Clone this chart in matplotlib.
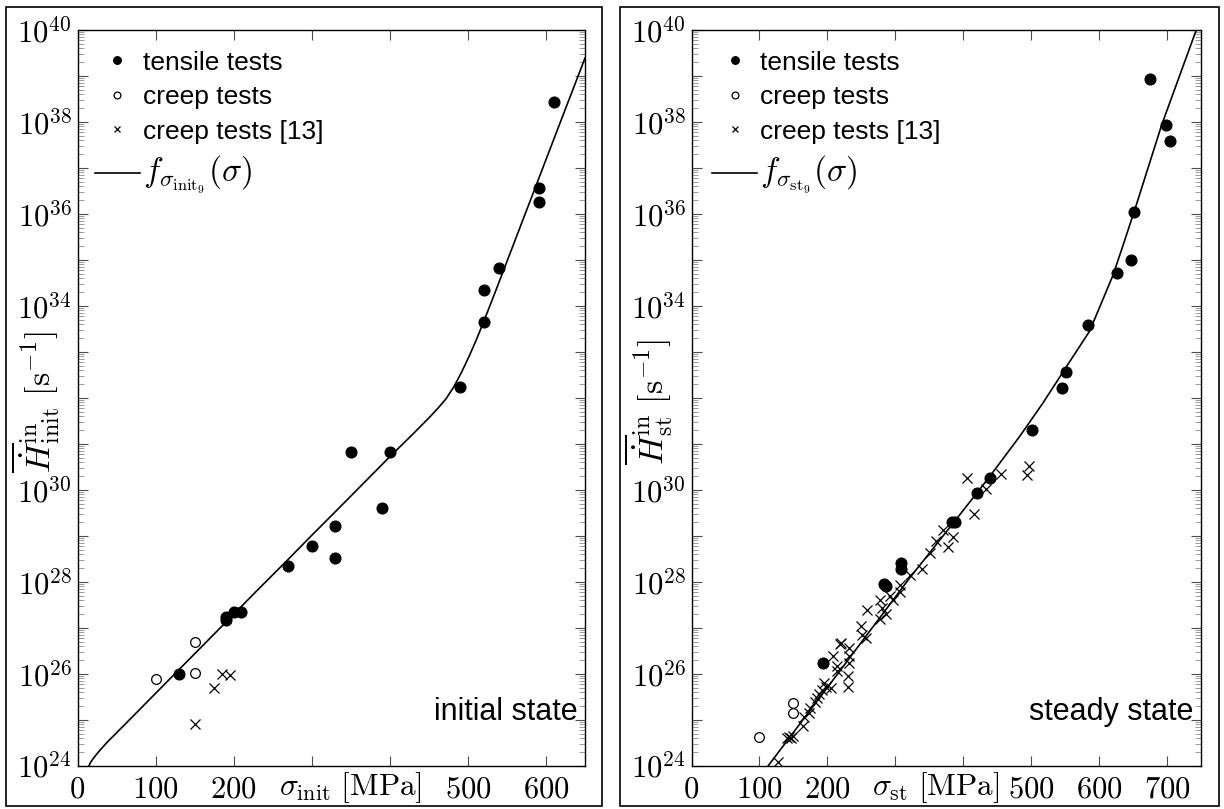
import matplotlib.pyplot as plt
import numpy as np
from matplotlib.patches import Rectangle
from matplotlib.ticker import FixedLocator, LogLocator, NullFormatter, FuncFormatter

plt.rcParams['font.family'] = ['Liberation Sans', 'DejaVu Sans']
plt.rcParams['mathtext.fontset'] = 'cm'

# --- initial state (stress in MPa, rate given as log10 of H [1/s]) ---
init_tensile_sigma = [610, 590.5, 590.5, 540, 520.5, 520.5, 490, 350, 400, 390,
                      330, 300, 330, 270, 210, 200, 190, 190, 130]
init_tensile_exp = [38.43, 36.56, 36.25, 34.82, 34.34, 33.65, 32.23, 30.82, 30.82, 29.60,
                    29.21, 28.78, 28.51, 28.34, 27.34, 27.34, 27.24, 27.17, 25.99]
init_creep_sigma = [100, 150, 150]
init_creep_exp = [25.89, 26.69, 26.02]
init_lit_sigma = [150, 175, 185, 195]
init_lit_exp = [24.90, 25.70, 25.99, 25.97]
init_fit_sigma = [14.7, 17, 20, 24, 29, 37.4, 76, 130, 190, 230, 270, 300, 330, 365,
                  400, 430, 451, 462, 472, 482, 492, 502, 512, 524, 535, 584, 614, 650]
init_fit_exp = [24.0, 24.08, 24.15, 24.24, 24.34, 24.5, 25.16, 26.09, 27.12, 27.81,
                28.49, 29.01, 29.52, 30.12, 30.72, 31.22, 31.58, 31.78, 31.98, 32.24,
                32.56, 32.92, 33.31, 33.82, 34.3, 36.47, 37.8, 39.39]

# --- steady state ---
st_tensile_sigma = [309, 309, 283, 286, 194, 384, 388, 421, 439, 501, 545, 551,
                    584, 627, 647, 652, 675, 699, 705]
st_tensile_exp = [28.40, 28.27, 27.95, 27.90, 26.24, 29.30, 29.30, 29.94, 30.26, 31.30,
                  32.21, 32.56, 33.58, 34.71, 35.00, 36.05, 38.93, 37.93, 37.59]
st_creep_sigma = [100, 150, 150]
st_creep_exp = [24.63, 25.36, 25.14]
st_lit_sigma = [127.7, 140, 144, 147, 150, 164.5, 166, 173, 175, 181.6, 185, 188,
                191.5, 195, 198, 206, 207.6, 214.4, 214.4, 218.4, 220.8, 230.6, 230.6,
                232, 232, 232, 248.8, 250.3, 257.6, 258.5, 277.2, 278.2, 279.7, 286,
                291.9, 296.8, 306.6, 306.6, 321.3, 340, 351.7, 360.6, 370.3, 377.6,
                385, 406, 416, 434, 456, 493.8, 496.3]
st_lit_exp = [24.09, 24.60, 24.63, 24.60, 24.64, 24.86, 25.07, 25.15, 25.25, 25.39,
              25.47, 25.57, 25.65, 25.79, 25.72, 25.68, 26.39, 26.17, 26.06, 26.65,
              26.66, 25.94, 25.72, 26.55, 26.39, 26.24, 27.04, 26.84, 26.77, 27.39,
              27.18, 27.60, 27.44, 27.31, 27.68, 27.60, 27.93, 27.78, 28.15, 28.28,
              28.63, 28.89, 29.13, 28.76, 28.97, 30.26, 29.47, 30.02, 30.34, 30.32,
              30.52]
st_fit_sigma = [113, 200, 321, 385, 439, 483, 517, 552, 586, 620, 636, 654, 692, 743]
st_fit_exp = [24.0, 25.7, 28.08, 29.27, 30.29, 31.16, 31.88, 32.68, 33.45, 34.65,
              35.35, 36.16, 37.93, 40.0]

y_exponents = list(range(24, 41))
hidden_y_label = 32
x_hidden = [300, 400]


def setup_axis(ax, xmax, xlab, ylab, note):
    ax.set_yscale('log')
    ax.set_xlim(0, xmax)
    ax.set_ylim(1e24, 1e40)

    ax.yaxis.set_major_locator(FixedLocator([10.0 ** k for k in y_exponents]))
    ax.yaxis.set_minor_locator(LogLocator(base=10, subs=np.arange(2, 10), numticks=100))
    ax.yaxis.set_minor_formatter(NullFormatter())

    def ylabfmt(v, pos):
        k = int(round(np.log10(v)))
        if k % 2 or k == hidden_y_label:
            return ''
        return r'$10^{%d}$' % k
    ax.yaxis.set_major_formatter(FuncFormatter(ylabfmt))

    xt = list(range(0, xmax + 1, 100))
    ax.set_xticks(xt)
    ax.set_xticklabels(['' if v in x_hidden else r'$%d$' % v for v in xt])

    ax.tick_params(which='both', direction='in', top=True, right=True, labelsize=22)
    ax.tick_params(which='major', length=7, width=0.8, color='0.3')
    ax.tick_params(axis='x', pad=6)
    ax.tick_params(axis='y', pad=4)
    ax.tick_params(which='minor', length=4, width=0.6, color='0.55')
    for s in ax.spines.values():
        s.set_linewidth(1.0)

    ax.annotate(xlab, xy=(350 if xmax < 700 else 360, 0),
                xycoords=('data', 'axes fraction'),
                xytext=(0, -21), textcoords='offset points',
                ha='center', va='baseline', fontsize=22.5)
    ax.text(-0.083, 10.0 ** (hidden_y_label - 0.1), ylab,
            transform=ax.get_yaxis_transform(),
            rotation=90, ha='center', va='center', fontsize=24.5)
    ax.text(0.985, 0.062, note, transform=ax.transAxes, ha='right',
            va='baseline', fontsize=22)


fig = plt.figure(figsize=(12.24, 8.09), dpi=100)
ax1 = fig.add_axes([77.5 / 1224, 1 - 765.7 / 809, 507.5 / 1224, 735.7 / 809])
ax2 = fig.add_axes([691.5 / 1224, 1 - 765.7 / 809, 509.5 / 1224, 735.7 / 809])

panels = [
    (ax1, 650, 0.0345, init_tensile_sigma, init_tensile_exp, init_creep_sigma,
     init_creep_exp, init_lit_sigma, init_lit_exp, init_fit_sigma, init_fit_exp,
     r'$f_{\sigma_{\mathrm{init}_9}}(\sigma)$',
     r'$\sigma_{\mathrm{init}}\ [\mathrm{MPa}]$',
     r'$\overline{\dot{H}}^{\mathrm{in}}_{\mathrm{init}}\ [\mathrm{s}^{-1}]$',
     'initial state'),
    (ax2, 750, 0.041, st_tensile_sigma, st_tensile_exp, st_creep_sigma,
     st_creep_exp, st_lit_sigma, st_lit_exp, st_fit_sigma, st_fit_exp,
     r'$f_{\sigma_{\mathrm{st}_9}}(\sigma)$',
     r'$\sigma_{\mathrm{st}}\ [\mathrm{MPa}]$',
     r'$\overline{\dot{H}}^{\mathrm{in}}_{\mathrm{st}}\ [\mathrm{s}^{-1}]$',
     'steady state'),
]

for (ax, xmax, legx, ts, te, cs, ce, ls, le, fs, fe, fitlab, xlab, ylab, note) in panels:
    ax.plot(ts, 10.0 ** np.array(te), 'o', color='k', ms=7.7, mec='k',
            label='tensile tests', zorder=3)
    ax.plot(cs, 10.0 ** np.array(ce), 'o', mfc='white', mec='k', ms=7, mew=0.9,
            label='creep tests', zorder=3)
    ax.plot(ls, 10.0 ** np.array(le), 'x', color='k', ms=7, mew=0.9,
            label='creep tests [13]', zorder=3)
    ax.plot(fs, 10.0 ** np.array(fe), '-', color='k', lw=1.2, label=fitlab, zorder=2)
    setup_axis(ax, xmax, xlab, ylab, note)
    leg = ax.legend(loc='upper left', bbox_to_anchor=(legx, 0.972), borderaxespad=0,
                    borderpad=0, frameon=False, fontsize=19, markerscale=0.7,
                    handlelength=1.7, handletextpad=0.12, labelspacing=0.4)
    leg.get_texts()[3].set_fontsize(24)

for x0, w in [(5.5, 596.5), (620, 599)]:
    fig.add_artist(Rectangle((x0 / 1224, 3 / 809), w / 1224, 799.5 / 809,
                             transform=fig.transFigure, fill=False, lw=1.2, ec='k'))

fig.savefig('out.png', dpi=100)
